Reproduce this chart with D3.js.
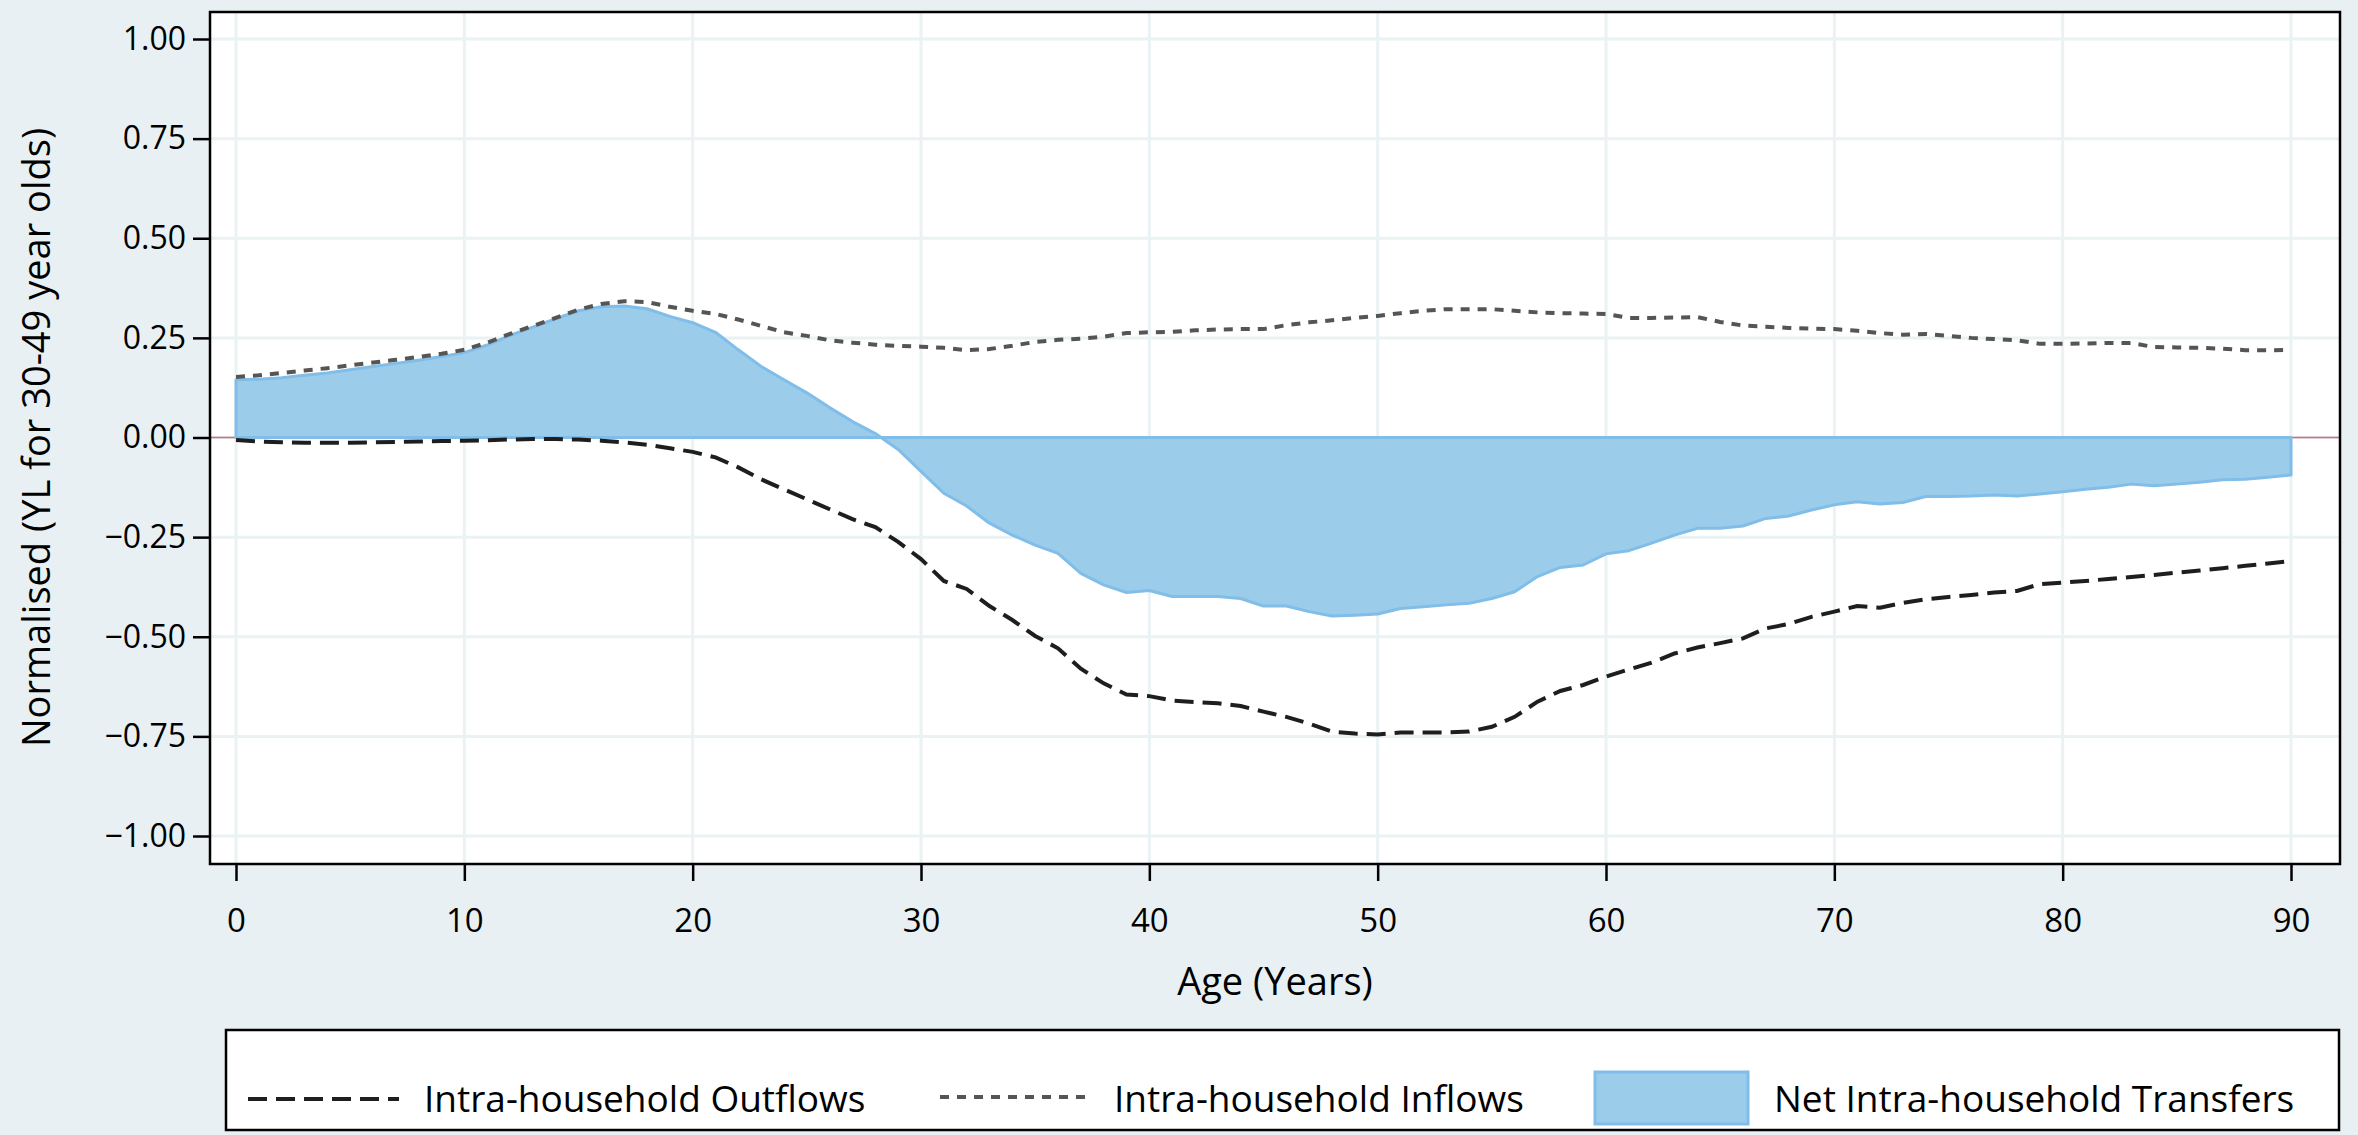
<!DOCTYPE html>
<html>
<head>
<meta charset="utf-8">
<script src="https://cdn.jsdelivr.net/npm/d3@7"></script>
<style>
  body { margin: 0; background: #e8f0f3; }
  svg { display: block; font-family: "Open Sans", sans-serif; }
</style>
</head>
<body>
<div id="chart"></div>
<script>
// ages 0..90, one value per year
const ages = d3.range(0, 91);

const inflows = [
  0.152, 0.156, 0.162, 0.168, 0.174, 0.181, 0.188, 0.195, 0.202, 0.210,
  0.220, 0.238, 0.260, 0.280, 0.300, 0.321, 0.335, 0.342, 0.340, 0.328,
  0.318, 0.310, 0.296, 0.280, 0.264, 0.255, 0.244, 0.238, 0.233, 0.230,
  0.228, 0.225, 0.219, 0.222, 0.230, 0.240, 0.245, 0.248, 0.253, 0.262,
  0.264, 0.265, 0.269, 0.271, 0.272, 0.272, 0.282, 0.289, 0.294, 0.300,
  0.305, 0.312, 0.318, 0.322, 0.322, 0.322, 0.318, 0.314, 0.312, 0.311,
  0.310, 0.300, 0.300, 0.301, 0.302, 0.290, 0.281, 0.278, 0.275, 0.273,
  0.272, 0.268, 0.262, 0.258, 0.260, 0.255, 0.250, 0.247, 0.244, 0.235,
  0.235, 0.236, 0.237, 0.237, 0.227, 0.226, 0.225, 0.223, 0.219, 0.219,
  0.220
];

const outflows = [
  -0.006, -0.010, -0.012, -0.013, -0.013, -0.013, -0.012, -0.011, -0.010, -0.009,
  -0.008, -0.007, -0.005, -0.004, -0.004, -0.005, -0.008, -0.012, -0.018, -0.027,
  -0.036, -0.050, -0.075, -0.105, -0.130, -0.155, -0.180, -0.205, -0.225, -0.262,
  -0.305, -0.360, -0.380, -0.423, -0.458, -0.498, -0.529, -0.580, -0.617, -0.645,
  -0.649, -0.660, -0.664, -0.667, -0.674, -0.688, -0.701, -0.718, -0.738, -0.743,
  -0.745, -0.740, -0.740, -0.740, -0.738, -0.726, -0.701, -0.663, -0.636, -0.621,
  -0.600, -0.582, -0.565, -0.542, -0.527, -0.516, -0.504, -0.479, -0.468, -0.450,
  -0.437, -0.423, -0.427, -0.415, -0.406, -0.400, -0.395, -0.389, -0.385, -0.368,
  -0.364, -0.360, -0.355, -0.350, -0.345, -0.339, -0.334, -0.328, -0.322, -0.316,
  -0.310
];

const net = [
  0.145, 0.146, 0.150, 0.156, 0.162, 0.170, 0.178, 0.186, 0.194, 0.203,
  0.213, 0.232, 0.256, 0.277, 0.298, 0.318, 0.328, 0.330, 0.323, 0.304,
  0.288, 0.264, 0.220, 0.178, 0.145, 0.112, 0.075, 0.040, 0.010, -0.030,
  -0.085, -0.140, -0.172, -0.215, -0.245, -0.270, -0.291, -0.341, -0.370, -0.389,
  -0.384, -0.399, -0.399, -0.399, -0.404, -0.423, -0.423, -0.437, -0.448, -0.446,
  -0.443, -0.429, -0.425, -0.420, -0.416, -0.404, -0.387, -0.349, -0.326, -0.320,
  -0.292, -0.284, -0.265, -0.245, -0.228, -0.228, -0.222, -0.203, -0.197, -0.182,
  -0.169, -0.161, -0.167, -0.163, -0.148, -0.148, -0.147, -0.144, -0.147, -0.142,
  -0.136, -0.130, -0.125, -0.117, -0.121, -0.117, -0.112, -0.106, -0.105, -0.100,
  -0.094
];

const xTicks = [0, 10, 20, 30, 40, 50, 60, 70, 80, 90];
const yTicks = [-1, -0.75, -0.5, -0.25, 0, 0.25, 0.5, 0.75, 1];
const legendLabels = ["Intra-household Outflows", "Intra-household Inflows", "Net Intra-household Transfers"];

const width = 2358;
const height = 1135;
const plot = { left: 210, top: 12, right: 2340, bottom: 864 };

const svg = d3.select("#chart").append("svg")
  .attr("width", width)
  .attr("height", height);

svg.append("rect")
  .attr("width", width).attr("height", height)
  .attr("fill", "#e8f0f3");

svg.append("rect")
  .attr("x", plot.left).attr("y", plot.top)
  .attr("width", plot.right - plot.left)
  .attr("height", plot.bottom - plot.top)
  .attr("fill", "#ffffff");

const x = d3.scaleLinear().domain([0, 90]).range([236, 2291]);
const y = d3.scaleLinear().domain([-1, 1]).range([836, 39]);

// grid
const grid = svg.append("g").attr("stroke", "#eaf2f3").attr("stroke-width", 3);
grid.selectAll(".gx").data(xTicks).enter().append("line")
  .attr("x1", d => x(d)).attr("x2", d => x(d))
  .attr("y1", plot.top).attr("y2", plot.bottom);
grid.selectAll(".gy").data(yTicks).enter().append("line")
  .attr("x1", plot.left).attr("x2", plot.right)
  .attr("y1", d => y(d)).attr("y2", d => y(d));

// zero reference line
svg.append("line")
  .attr("x1", plot.left).attr("x2", plot.right)
  .attr("y1", y(0)).attr("y2", y(0))
  .attr("stroke", "#d9667e").attr("stroke-width", 1.5);

const rows = ages.map((a, i) => ({ age: a, inflow: inflows[i], outflow: outflows[i], net: net[i] }));

// net area
const area = d3.area()
  .x(d => x(d.age))
  .y0(y(0))
  .y1(d => y(d.net));

svg.append("path")
  .datum(rows)
  .attr("d", area)
  .attr("fill", "#9bcdeb")
  .attr("stroke", "#80bde8")
  .attr("stroke-width", 3)
  .attr("stroke-linejoin", "round");

const lineIn = d3.line().x(d => x(d.age)).y(d => y(d.inflow));
const lineOut = d3.line().x(d => x(d.age)).y(d => y(d.outflow));

svg.append("path")
  .datum(rows)
  .attr("d", lineIn)
  .attr("fill", "none")
  .attr("stroke", "#555555")
  .attr("stroke-width", 4)
  .attr("stroke-dasharray", "9 8");

svg.append("path")
  .datum(rows)
  .attr("d", lineOut)
  .attr("fill", "none")
  .attr("stroke", "#1e1e1e")
  .attr("stroke-width", 4)
  .attr("stroke-dasharray", "19 9");

// frame
svg.append("rect")
  .attr("x", plot.left).attr("y", plot.top)
  .attr("width", plot.right - plot.left)
  .attr("height", plot.bottom - plot.top)
  .attr("fill", "none")
  .attr("stroke", "#000")
  .attr("stroke-width", 2.5);

// axes
const yAxis = d3.axisLeft(y)
  .tickValues(yTicks)
  .tickFormat(d3.format(".2f"))
  .tickSize(17)
  .tickPadding(7);

const gy = svg.append("g")
  .attr("transform", `translate(${plot.left},0)`)
  .call(yAxis);
gy.select(".domain").remove();
gy.selectAll("line").attr("stroke", "#000").attr("stroke-width", 2.5);
gy.selectAll("text").attr("font-size", 32).attr("fill", "#000").attr("font-family", "Open Sans, sans-serif");

const xAxis = d3.axisBottom(x)
  .tickValues(xTicks)
  .tickFormat(d3.format("d"))
  .tickSize(17)
  .tickPadding(28);

const gx = svg.append("g")
  .attr("transform", `translate(0,${plot.bottom})`)
  .call(xAxis);
gx.select(".domain").remove();
gx.selectAll("line").attr("stroke", "#000").attr("stroke-width", 2.5);
gx.selectAll("text").attr("font-size", 33).attr("fill", "#000").attr("font-family", "Open Sans, sans-serif");

svg.append("text")
  .attr("x", (plot.left + plot.right) / 2)
  .attr("y", 995)
  .attr("text-anchor", "middle")
  .attr("font-size", 38)
  .text("Age (Years)");

svg.append("text")
  .attr("transform", `translate(50,${y(0)}) rotate(-90)`)
  .attr("text-anchor", "middle")
  .attr("font-size", 38)
  .text("Normalised (YL for 30-49 year olds)");

// legend
const legend = svg.append("g");
legend.append("rect")
  .attr("x", 226).attr("y", 1030)
  .attr("width", 2113).attr("height", 100)
  .attr("fill", "#fff")
  .attr("stroke", "#000")
  .attr("stroke-width", 2.5);

const ly = 1099;
legend.append("line")
  .attr("x1", 248).attr("x2", 399).attr("y1", ly).attr("y2", ly)
  .attr("stroke", "#1e1e1e").attr("stroke-width", 4).attr("stroke-dasharray", "19 9");
legend.append("text")
  .attr("x", 424).attr("y", ly + 13).attr("font-size", 37)
  .text(legendLabels[0]);

legend.append("line")
  .attr("x1", 940).attr("x2", 1093).attr("y1", ly - 2).attr("y2", ly - 2)
  .attr("stroke", "#555555").attr("stroke-width", 4).attr("stroke-dasharray", "9 8");
legend.append("text")
  .attr("x", 1114).attr("y", ly + 13).attr("font-size", 37)
  .text(legendLabels[1]);

legend.append("rect")
  .attr("x", 1595).attr("y", 1072)
  .attr("width", 153).attr("height", 52)
  .attr("fill", "#9bcdeb")
  .attr("stroke", "#80bde8")
  .attr("stroke-width", 3);
legend.append("text")
  .attr("x", 1774).attr("y", ly + 13).attr("font-size", 37)
  .text(legendLabels[2]);
</script>
</body>
</html>
